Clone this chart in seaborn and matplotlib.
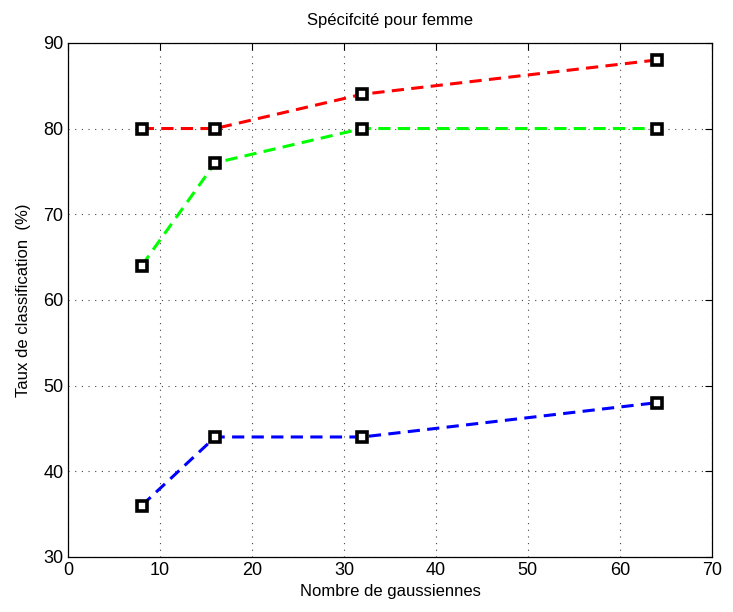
import pandas as pd
import matplotlib
matplotlib.use("Agg")
import matplotlib.pyplot as plt
import seaborn as sns

# data
gaussiennes = [8, 16, 32, 64]
serie_rouge = [80, 80, 84, 88]
serie_verte = [64, 76, 80, 80]
serie_bleue = [36, 44, 44, 48]
couleurs = {"rouge": "#ff0000", "verte": "#00ff00", "bleue": "#0000ff"}

df = pd.DataFrame({
    "x": gaussiennes * 3,
    "y": serie_rouge + serie_verte + serie_bleue,
    "serie": ["rouge"] * 4 + ["verte"] * 4 + ["bleue"] * 4,
})

sns.set_style("white")
plt.rcParams["font.family"] = ["Liberation Sans", "DejaVu Sans"]
plt.rcParams["text.color"] = "black"
plt.rcParams["axes.labelcolor"] = "black"

fig = plt.figure(figsize=(7.33, 6.12), dpi=100)
ax = fig.add_axes([0.093, 0.090, 0.878, 0.840])

sns.lineplot(data=df, x="x", y="y", hue="serie", style="serie",
             palette=couleurs, dashes=[(4.0, 2.4)] * 3, markers=["s"] * 3,
             linewidth=2.2, markersize=6.5, markerfacecolor="white",
             markeredgecolor="black", markeredgewidth=2.6,
             legend=False, ax=ax)

ax.set_xlim(0, 70)
ax.set_ylim(30, 90)
ax.set_xticks(range(0, 71, 10))
ax.set_yticks(range(30, 91, 10))
ax.grid(True, color="#444444", linestyle=(0, (1, 5)), linewidth=0.8)
ax.tick_params(direction="in", length=5, width=0.8, top=True, right=True,
               labelsize=13, colors="black")
for s in ax.spines.values():
    s.set_color("black")
    s.set_linewidth(0.9)

ax.set_xlabel("Nombre de gaussiennes", fontsize=12, labelpad=4)
ax.set_ylabel("Taux de classification  (%)", fontsize=12, labelpad=9)
ax.set_title("Spécifcité pour femme", fontsize=12, pad=13)

fig.savefig("out.png", dpi=100)
